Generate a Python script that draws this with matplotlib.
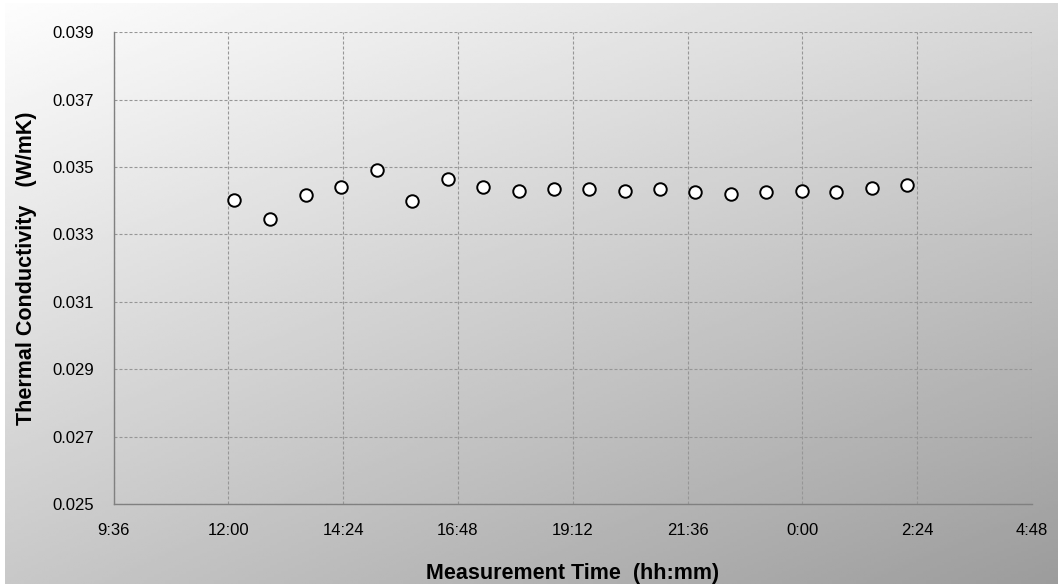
import matplotlib
matplotlib.use("Agg")
import matplotlib.pyplot as plt
import numpy as np

plt.rcParams['font.family'] = ['Liberation Sans', 'DejaVu Sans']

# measurement times (hh:mm), run continues past midnight
times = ["12:07", "12:52", "13:37", "14:21", "15:06", "15:50", "16:35",
         "17:19", "18:04", "18:48", "19:32", "20:17", "21:02", "21:45",
         "22:31", "23:14", "23:59", "0:42", "1:27", "2:11"]
# thermal conductivity (W/mK)
conductivity = [0.03402, 0.03345, 0.03418, 0.03442, 0.03491, 0.03398, 0.03466,
                0.03442, 0.03429, 0.03434, 0.03434, 0.03429, 0.03434, 0.03426,
                0.03421, 0.03426, 0.03429, 0.03426, 0.03438, 0.03446]

x_ticks_h = [9.6, 12.0, 14.4, 16.8, 19.2, 21.6, 24.0, 26.4, 28.8]
y_ticks = [0.025, 0.027, 0.029, 0.031, 0.033, 0.035, 0.037, 0.039]


def to_hours(s):
    h, m = s.split(":")
    v = int(h) + int(m) / 60.0
    if v < 9:  # next day
        v += 24
    return v


def fmt_hm(v):
    total = int(round(v * 60)) % (24 * 60)
    return "%d:%02d" % (total // 60, total % 60)


x_vals = [to_hours(t) for t in times]

fig = plt.figure(figsize=(10.58, 5.84), dpi=100)
fig.patch.set_facecolor("white")

# diagonal grey gradient behind the chart
bg = fig.add_axes([5 / 1058, 0, 1 - 5 / 1058, 1 - 3.3 / 584])
bg.axis("off")
u = np.linspace(0, 1, 300)
v = np.linspace(0, 1, 200)
U, V = np.meshgrid(u, v)
tl, tr, bl, br = 253, 216, 200, 156
grad = (tl * (1 - U) * (1 - V) + tr * U * (1 - V) + bl * (1 - U) * V + br * U * V) / 255.0
bg.imshow(grad, cmap="gray", vmin=0, vmax=1, aspect="auto", extent=[0, 1, 1, 0])
bg.set_xlim(0, 1)
bg.set_ylim(1, 0)

ax = fig.add_axes([113.5 / 1058, 1 - 504 / 584, (1032 - 113.5) / 1058, (504 - 32.3) / 584])
ax.set_facecolor("none")

ax.plot(x_vals, conductivity, linestyle="none", marker="o", markersize=9,
        markerfacecolor="white", markeredgecolor="black", markeredgewidth=1.4,
        clip_on=False, zorder=3)

ax.set_xlim(x_ticks_h[0], x_ticks_h[-1])
ax.set_ylim(y_ticks[0], y_ticks[-1])
ax.set_xticks(x_ticks_h)
ax.set_xticklabels([fmt_hm(t) for t in x_ticks_h])
ax.set_yticks(y_ticks)
ax.set_yticklabels(["%.3f" % t for t in y_ticks])

ax.grid(True, color="#969696", linewidth=0.8, linestyle=(0, (2.7, 1.8)))
ax.set_axisbelow(True)

for side in ["top", "right"]:
    ax.spines[side].set_visible(False)
for side in ["left", "bottom"]:
    ax.spines[side].set_color("#808080")
    ax.spines[side].set_linewidth(1.0)

ax.tick_params(axis="both", length=0, labelsize=12, colors="black")
ax.tick_params(axis="x", pad=14)
ax.tick_params(axis="y", pad=14)

ax.set_xlabel("Measurement Time  (hh:mm)", fontsize=15.5, fontweight="bold", labelpad=18)
ax.set_ylabel("Thermal Conductivity   (W/mK)", fontsize=15.5, fontweight="bold", labelpad=11)

fig.savefig("out.png", dpi=100)
